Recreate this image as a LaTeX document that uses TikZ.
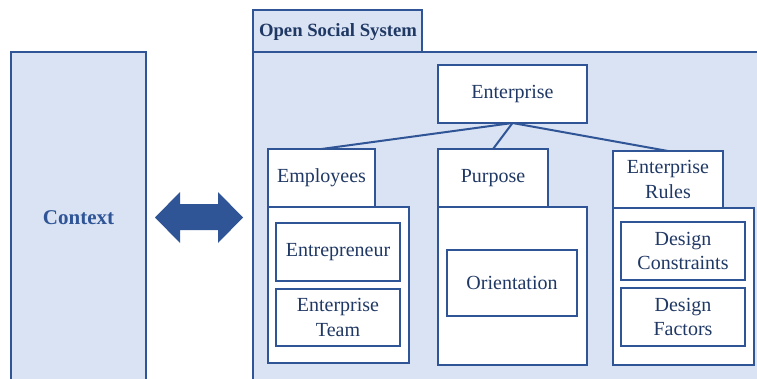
\documentclass[tikz,border=0pt]{standalone}
\usepackage{fontspec}
\setmainfont{Liberation Serif}
\begin{document}
\begin{tikzpicture}[x=1pt,y=-1pt,
  every node/.style={inner sep=0pt, outer sep=0pt},
  lineblue/.style={draw=edgeblue, line width=2.1pt},
  panel/.style={lineblue, fill=paleblue},
  box/.style={lineblue, fill=white, align=center, text=navy,
    font=\fontsize{20}{24.5}\selectfont},
  link/.style={draw=edgeblue, line width=2pt}
]
\definecolor{edgeblue}{HTML}{2F5597}
\definecolor{paleblue}{HTML}{DAE3F3}
\definecolor{navy}{HTML}{203864}
\definecolor{darknavy}{HTML}{1F3864}

\useasboundingbox (0,0) rectangle (757,378);
\clip (0,0) rectangle (757,378);

% context panel
\path[panel] (11,52) rectangle (146,400);
\node[text=edgeblue, font=\bfseries\fontsize{21}{24}\selectfont] (context) at (78.5,218) {Context};

% two-way exchange arrow
\fill[edgeblue] (155,217.5) -- (180,192) -- (180,204) -- (218,204) -- (218,192)
  -- (243,217.5) -- (218,243) -- (218,230) -- (180,230) -- (180,243) -- cycle;

% open social system panel with its tab
\path[panel] (253,52) rectangle (780,400);
\path[panel] (253,10) rectangle (422,52);
\node[anchor=west, text=darknavy, font=\bfseries\fontsize{18.7}{21}\selectfont] (oss) at (259,32) {Open Social System};

% enterprise
\node[box, minimum width=149, minimum height=58] (ent) at (512.5,94) {Enterprise};

% employees
\node[box, minimum width=141, minimum height=156] (empbody) at (338.5,285) {};
\node[box, minimum width=107, minimum height=58] (emp) at (321.5,178) {Employees};
\node[box, minimum width=124, minimum height=58] (entr) at (338,252) {Entrepreneur};
\node[box, minimum width=124, minimum height=57] (team) at (338,317.5) {Enterprise\\Team};

% purpose
\node[box, minimum width=149, minimum height=158] (purbody) at (512.5,286) {};
\node[box, minimum width=110, minimum height=58] (pur) at (493,178) {Purpose};
\node[box, minimum width=130, minimum height=66] (orient) at (512,283) {Orientation};

% enterprise rules
\node[box, minimum width=141, minimum height=157] (rulebody) at (683.5,286.5) {};
\node[box, minimum width=110, minimum height=57] (rules) at (668,179.5) {Enterprise\\Rules};
\node[box, minimum width=124, minimum height=58] (dc) at (683,251) {Design\\Constraints};
\node[box, minimum width=124, minimum height=58] (df) at (683,317) {Design\\Factors};

% hierarchy links
\draw[link] (ent.south) -- (emp.north);
\draw[link] (ent.south) -- (pur.north);
\draw[link] (ent.south) -- (rules.north);
\end{tikzpicture}
\end{document}
